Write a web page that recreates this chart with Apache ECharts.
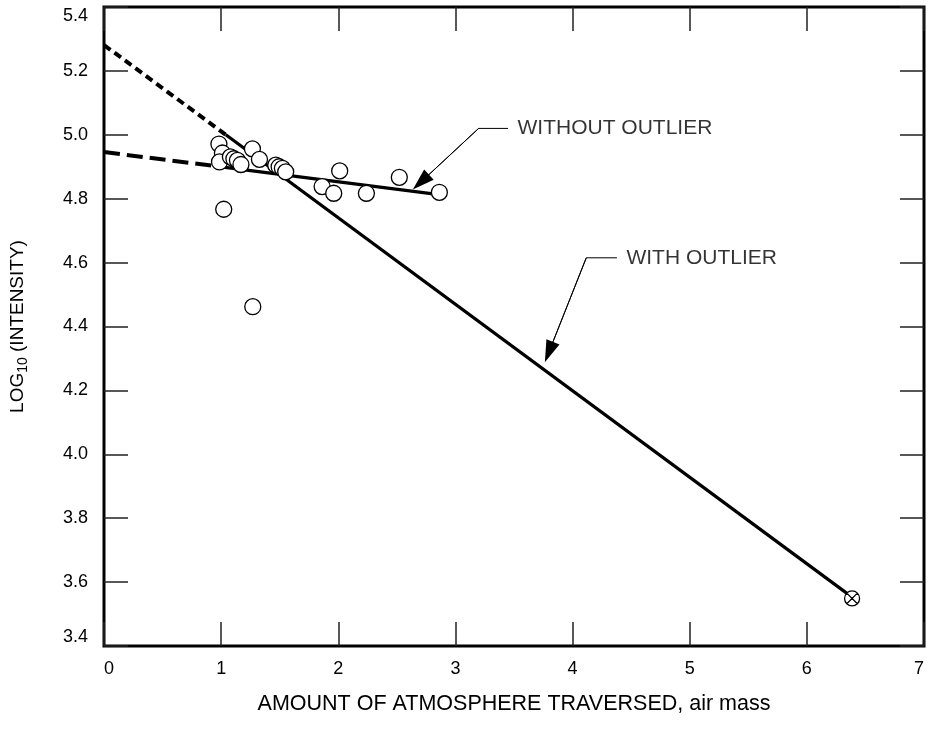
<!DOCTYPE html>
<html>
<head>
<meta charset="utf-8">
<script src="https://cdn.jsdelivr.net/npm/echarts@6/dist/echarts.min.js"></script>
<style>
  html, body { margin: 0; padding: 0; background: #fff; }
  #chart { width: 930px; height: 736px; }
</style>
</head>
<body>
<div id="chart"></div>
<script>
// observations (air mass, log10 intensity)
const airMass = [0.981, 1.011, 0.986, 1.079, 1.109, 1.139, 1.169, 1.267, 1.327, 1.466, 1.495, 1.523, 1.551,
  1.862, 1.961, 2.012, 2.240, 2.521, 2.863, 1.022, 1.270];
const logIntensity = [4.971, 4.943, 4.915, 4.931, 4.925, 4.920, 4.907, 4.956, 4.923, 4.905, 4.900, 4.895, 4.884,
  4.838, 4.817, 4.887, 4.817, 4.867, 4.820, 4.767, 4.462];
const outlierPoint = [6.386, 3.549];

// fitted lines: [extrapolated start, start of data range, end]
const fitWithX = [0, 1.04, 6.386];
const fitWithY = [5.281, 5.000, 3.553];
const fitWithoutX = [0, 0.95, 2.86];
const fitWithoutY = [4.946, 4.902, 4.813];

// annotation leaders: text anchor, elbow, arrow centre
const labelNames = ["WITHOUT OUTLIER", "WITH OUTLIER"];
const leaderWithout = [[3.449, 5.020], [3.198, 5.020], [2.705, 4.852]];
const leaderWith = [[4.379, 4.615], [4.117, 4.615], [3.798, 4.320]];

const xTicks = [0, 7, 1];
const yTicks = [3.4, 5.4, 0.2];

const font = "'Liberation Sans', Arial, sans-serif";
const pts = (xs, ys) => xs.map((x, i) => [x, ys[i]]);

const chart = echarts.init(document.getElementById("chart"), null, { renderer: "canvas" });

const tick = { show: true, inside: true, length: 24, lineStyle: { color: "#222", width: 1.5 } };
const noLine = { show: false, onZero: false };

function leaderSeries(path, name) {
  return [
    {
      type: "line",
      data: path,
      showSymbol: false,
      silent: true,
      z: 4,
      lineStyle: { color: "#000", width: 1 },
      markLine: {
        silent: true,
        symbol: ["none", "triangle"],
        symbolSize: [14, 22],
        label: { show: false },
        lineStyle: { color: "#000", width: 1, type: "solid" },
        itemStyle: { color: "#000" },
        data: [[{ coord: path[1] }, { coord: path[2] }]]
      }
    },
    {
      type: "scatter",
      data: [{ value: path[0], name: name }],
      symbolSize: 1,
      silent: true,
      itemStyle: { color: "rgba(0,0,0,0)" },
      label: {
        show: true,
        position: "right",
        distance: 9,
        formatter: "{b}",
        color: "#000",
        fontFamily: font,
        fontSize: 21
      }
    }
  ];
}

const option = {
  animation: false,
  backgroundColor: "#fff",
  grid: {
    left: 104, right: 6, top: 7, bottom: 90,
    show: true, borderColor: "#000", borderWidth: 3,
    containLabel: false, outerBoundsMode: "none"
  },
  xAxis: [
    {
      type: "value",
      min: xTicks[0], max: xTicks[1], interval: xTicks[2],
      splitLine: { show: false },
      axisLine: noLine,
      axisTick: tick,
      axisLabel: {
        color: "#000", fontFamily: font, fontSize: 18, margin: 14,
        showMinLabel: true, showMaxLabel: true,
        alignMinLabel: "left", alignMaxLabel: "right"
      },
      name: "AMOUNT OF ATMOSPHERE TRAVERSED, air mass",
      nameLocation: "middle",
      nameGap: 47,
      nameTextStyle: { color: "#000", fontFamily: font, fontSize: 21.5 }
    },
    {
      type: "value", position: "top",
      min: xTicks[0], max: xTicks[1], interval: xTicks[2],
      splitLine: { show: false }, axisLine: noLine,
      axisTick: tick, axisLabel: { show: false }
    }
  ],
  yAxis: [
    {
      type: "value",
      min: yTicks[0], max: yTicks[1], interval: yTicks[2],
      splitLine: { show: false },
      axisLine: noLine,
      axisTick: tick,
      axisLabel: {
        color: "#000", fontFamily: font, fontSize: 18, margin: 16,
        showMinLabel: true, showMaxLabel: true,
        verticalAlignMinLabel: "bottom", verticalAlignMaxLabel: "top",
        formatter: v => v.toFixed(1)
      },
      name: "{a|LOG}{sub|10}{a| (INTENSITY)}",
      nameLocation: "middle",
      nameGap: 74,
      nameTextStyle: {
        color: "#000", fontFamily: font, fontSize: 19,
        rich: {
          a: { color: "#000", fontFamily: font, fontSize: 19, lineHeight: 24, verticalAlign: "middle" },
          sub: { color: "#000", fontFamily: font, fontSize: 14, lineHeight: 14, verticalAlign: "bottom" }
        }
      }
    },
    {
      type: "value", position: "right",
      min: yTicks[0], max: yTicks[1], interval: yTicks[2],
      splitLine: { show: false }, axisLine: noLine,
      axisTick: tick, axisLabel: { show: false }
    }
  ],
  series: [
    // with-outlier fit: dotted extrapolation + solid part
    {
      type: "line", data: pts(fitWithX.slice(0, 2), fitWithY.slice(0, 2)),
      showSymbol: false, silent: true, z: 2,
      lineStyle: { color: "#000", width: 4, type: [8, 5], cap: "butt" }
    },
    {
      type: "line", data: pts(fitWithX.slice(1), fitWithY.slice(1)),
      showSymbol: false, silent: true, z: 2,
      lineStyle: { color: "#000", width: 3.2 }
    },
    // without-outlier fit: dashed extrapolation + solid part
    {
      type: "line", data: pts(fitWithoutX.slice(0, 2), fitWithoutY.slice(0, 2)),
      showSymbol: false, silent: true, z: 2,
      lineStyle: { color: "#000", width: 4, type: [16, 7], cap: "butt" }
    },
    {
      type: "line", data: pts(fitWithoutX.slice(1), fitWithoutY.slice(1)),
      showSymbol: false, silent: true, z: 2,
      lineStyle: { color: "#000", width: 3.2 }
    },
    {
      type: "scatter",
      data: pts(airMass, logIntensity),
      symbol: "circle",
      symbolSize: 16,
      z: 5,
      itemStyle: { color: "#fff", borderColor: "#000", borderWidth: 1.3, opacity: 1 }
    },
    {
      type: "scatter",
      data: [outlierPoint],
      symbol: "path://M10,0 A10,10 0 1,1 10,20 A10,10 0 1,1 10,0 Z M2.93,2.93 L17.07,17.07 M17.07,2.93 L2.93,17.07",
      symbolSize: 15,
      z: 5,
      itemStyle: { color: "#fff", borderColor: "#000", borderWidth: 1.3, opacity: 1 }
    },
    ...leaderSeries(leaderWithout, labelNames[0]),
    ...leaderSeries(leaderWith, labelNames[1])
  ]
};

chart.setOption(option);
</script>
</body>
</html>
